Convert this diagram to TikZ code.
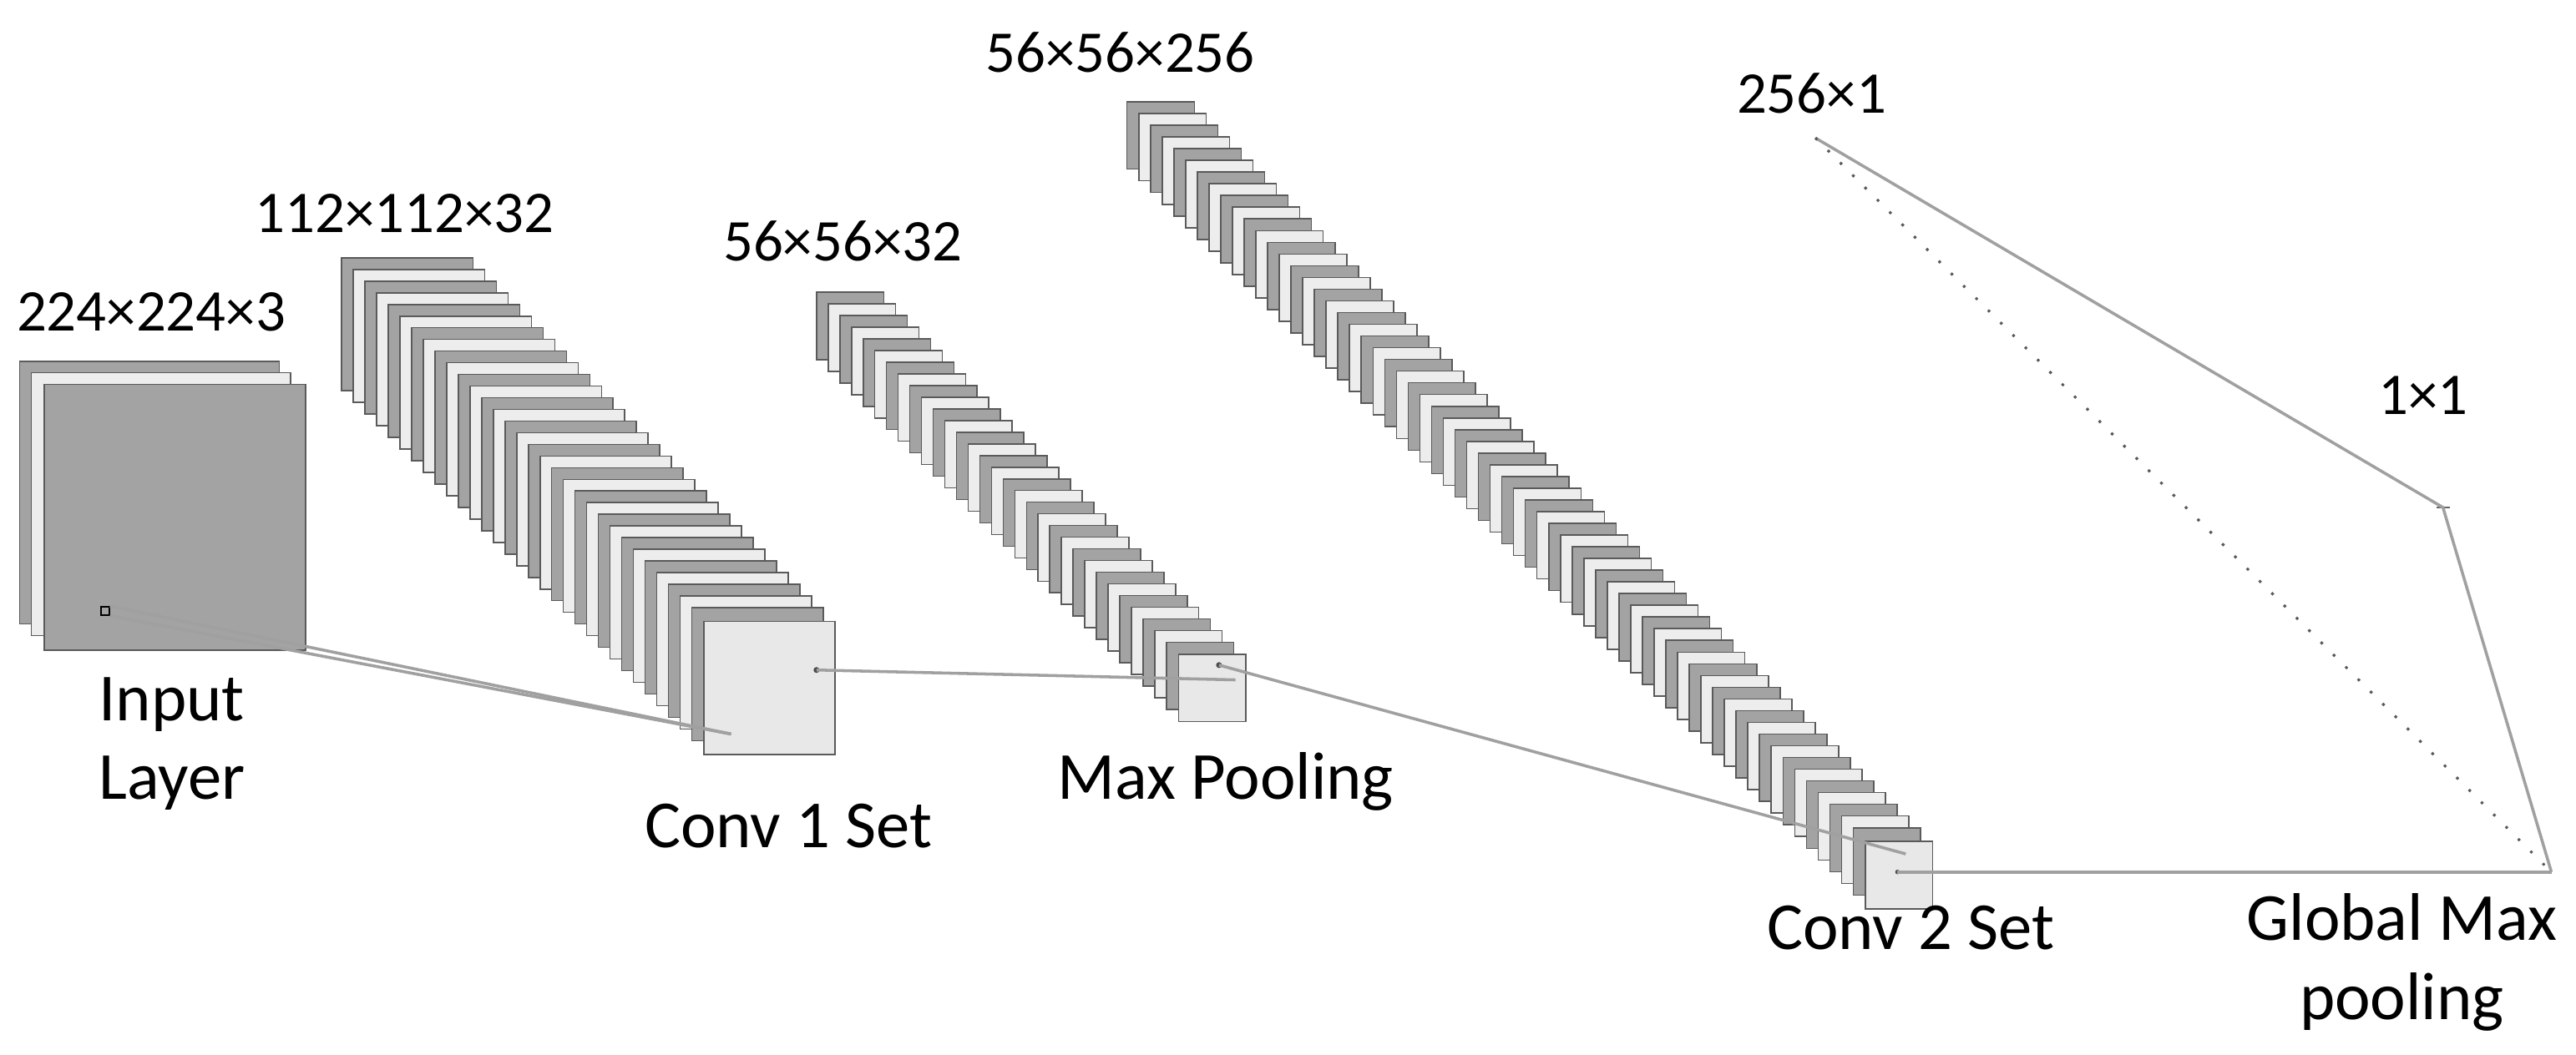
\documentclass[tikz,border=0pt]{standalone}
\usepackage{fontspec}
\setmainfont{Carlito}
\definecolor{plg}{HTML}{A3A3A3}
\definecolor{plw}{HTML}{EDEDED}
\definecolor{pfr}{HTML}{E8E8E8}
\definecolor{edg}{HTML}{5A5A5A}
\definecolor{lnk}{HTML}{A0A0A0}
\begin{document}
\begin{tikzpicture}[x=1pt,y=-1pt,
  lbl/.style={font=\fontsize{36}{40}\selectfont,inner sep=0pt},
  wlbl/.style={font=\fontsize{41}{46}\selectfont,inner sep=0pt},
  plate/.style={draw=edg,line width=0.8pt},
  link/.style={draw=lnk,line width=1.8pt}]
\useasboundingbox (0,0) rectangle (1568,642);
% input layer
\draw[plate,fill=plg] (12,220) rectangle +(158,160);
\draw[plate,fill=plw] (19,227) rectangle +(158,160);
\draw[plate,fill=plg] (27,234) rectangle +(159,162);
\node[draw=black,line width=0.8pt,minimum size=5pt,inner sep=0pt] (sq) at (64,372) {};
% conv1
\foreach \i in {0,...,30}{
  \pgfmathsetmacro{\c}{ifthenelse(mod(\i,2)==0,"plg","plw")}
  \draw[plate,fill=\c] ({208+7.1*\i},{157+7.1*\i}) rectangle +(80,81);}
\node[plate,fill=pfr,minimum width=80pt,minimum height=81pt,anchor=north west,inner sep=0pt] (c1) at (428,378) {};
\fill[black!70] (497,408) circle (1.8pt);
\coordinate (c1d) at (497,408);
\coordinate (c1e) at (445,447);
% max pooling
\foreach \i in {0,...,30}{
  \pgfmathsetmacro{\c}{ifthenelse(mod(\i,2)==0,"plg","plw")}
  \draw[plate,fill=\c] ({497+7.1*\i},{178+7.1*\i}) rectangle +(41,41);}
\node[plate,fill=pfr,minimum size=41pt,anchor=north west,inner sep=0pt] (mp) at (717,398) {};
\fill[black!70] (742,405) circle (1.8pt);
\coordinate (mpd) at (742,405);
\coordinate (mpe) at (752,414);
% conv2
\foreach \i in {0,...,62}{
  \pgfmathsetmacro{\c}{ifthenelse(mod(\i,2)==0,"plg","plw")}
  \draw[plate,fill=\c] ({686+7.13*\i},{62+7.13*\i}) rectangle +(41,41);}
\node[plate,fill=pfr,minimum size=41pt,anchor=north west,inner sep=0pt] (c2) at (1135,512) {};
\fill[black!70] (1155,531) circle (1.4pt);
\coordinate (c2d) at (1155,531);
\coordinate (c2e) at (1160,520);
% dense part
\coordinate (v256) at (1105,84);
\coordinate (g) at (1553,531);
\coordinate (one) at (1487,309);
\draw[black!60,line width=1.4pt] (1483,309) -- (1491,309);
% links
\draw[link] (sq.north east) -- (c1e);
\draw[link] (sq.south east) -- (c1e);
\draw[link] (c1d) -- (mpe);
\draw[link] (mpd) -- (c2e);
\draw[link] (c2d) -- (g);
\draw[link] (v256) -- (one) -- (g);
\draw[black!65,line width=1.6pt,dash pattern=on 1.6pt off 9pt] (v256) -- (g);
% labels
\node[lbl,anchor=west] (t1) at (10,190) {224×224×3};
\node[lbl,anchor=west] (t2) at (155,130) {112×112×32};
\node[lbl,anchor=west] (t3) at (440,147) {56×56×32};
\node[lbl,anchor=west] (t4) at (600,32) {56×56×256};
\node[lbl,anchor=west] (t5) at (1057,57) {256×1};
\node[lbl] (t6) at (1475,241) {1×1};
\node[wlbl,align=left,anchor=west] (l1) at (60,453) {Input\\[2pt]Layer};
\node[wlbl] (l2) at (480,503) {Conv 1 Set};
\node[wlbl] (l3) at (746,476) {Max Pooling};
\node[wlbl] (l4) at (1163,565) {Conv 2 Set};
\node[wlbl,align=center] (l5) at (1462,586) {Global Max\\[2pt]pooling};
\end{tikzpicture}
\end{document}
